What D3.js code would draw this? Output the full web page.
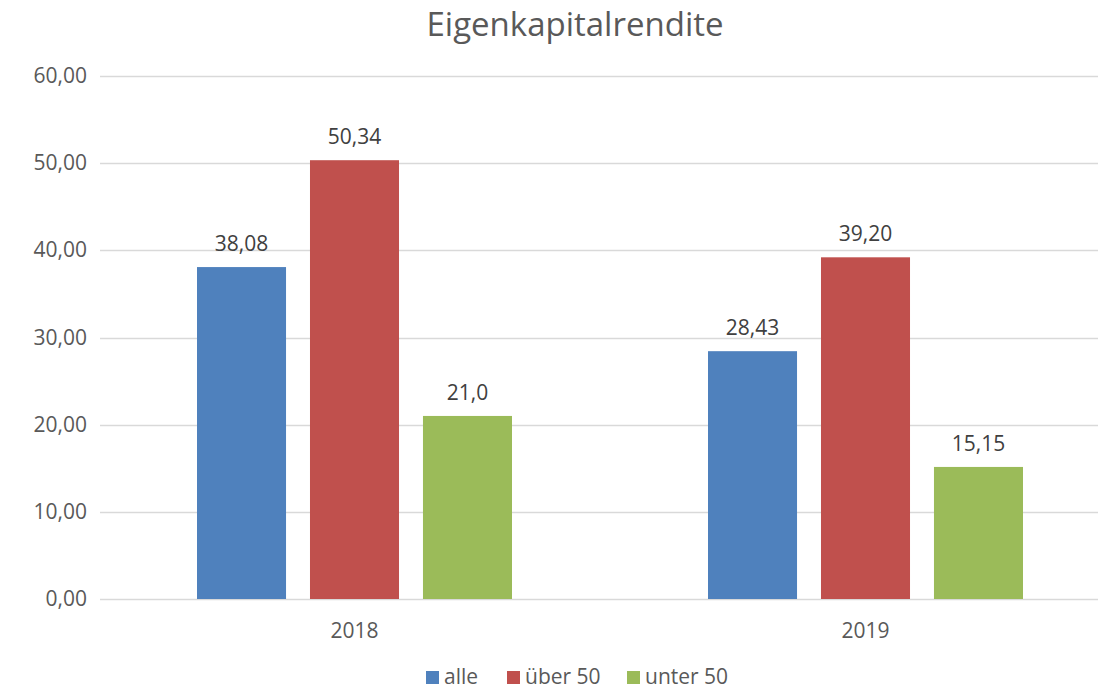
<!DOCTYPE html>
<head>
<meta charset="UTF-8">
<script src="https://cdn.jsdelivr.net/npm/d3@7"></script>
<style>
body { margin: 0; background: #fff; }
svg { display: block; font-family: "Open Sans", "Liberation Sans", sans-serif; }
.grid line { stroke: #d9d9d9; stroke-width: 1.3px; }
.tick-label { fill: #595959; font-size: 21px; }
.bar-label { fill: #404040; font-size: 21px; }
.title { fill: #595959; font-size: 33px; }
.legend text { fill: #595959; font-size: 21px; }
</style>
</head>
<body>
<script>

var width = 1103,
    height = 690;

var years = ["2018", "2019"];
var series = ["alle", "über 50", "unter 50"];
var colors = ["#4f81bd", "#c0504d", "#9bbb59"];
var values = [
    [38.08, 50.34, 21.0],
    [28.43, 39.20, 15.15]
];
var valueLabels = [
    ["38,08", "50,34", "21,0"],
    ["28,43", "39,20", "15,15"]
];
var yTicks = [0, 10, 20, 30, 40, 50, 60];

var svg = d3.select("body").append("svg")
    .attr("width", width)
    .attr("height", height);

var y = d3.scaleLinear().domain([0, 60]).range([599, 76]);

var x0 = d3.scaleBand().domain(years).range([99, 1121]);
var groupW = 315;
var x1 = d3.scaleBand().domain(series).range([0, groupW]).paddingInner(0.212);

var fmt = function(d) { return d3.format(".2f")(d).replace(".", ","); };

// gridlines
var grid = svg.append("g").attr("class", "grid");
grid.selectAll("line")
    .data(yTicks)
    .enter().append("line")
    .attr("x1", 100)
    .attr("x2", 1098)
    .attr("y1", function(d) { return Math.round(y(d)) + 0.5; })
    .attr("y2", function(d) { return Math.round(y(d)) + 0.5; });

svg.append("g").selectAll("text")
    .data(yTicks)
    .enter().append("text")
    .attr("class", "tick-label")
    .attr("x", 87)
    .attr("y", function(d) { return y(d) + 7; })
    .attr("text-anchor", "end")
    .text(fmt);

// bars
var groups = svg.append("g").selectAll("g")
    .data(years)
    .enter().append("g")
    .attr("transform", function(d) {
        return "translate(" + (x0(d) + (x0.bandwidth() - groupW) / 2) + ",0)";
    });

groups.selectAll("rect")
    .data(function(d, i) { return values[i].map(function(v, j) { return {s: series[j], v: v, c: colors[j]}; }); })
    .enter().append("rect")
    .attr("x", function(d) { return x1(d.s); })
    .attr("width", x1.bandwidth())
    .attr("y", function(d) { return y(d.v); })
    .attr("height", function(d) { return y(0) - y(d.v); })
    .attr("fill", function(d) { return d.c; });

groups.selectAll("text")
    .data(function(d, i) { return values[i].map(function(v, j) { return {s: series[j], v: v, l: valueLabels[i][j]}; }); })
    .enter().append("text")
    .attr("class", "bar-label")
    .attr("x", function(d) { return x1(d.s) + x1.bandwidth() / 2; })
    .attr("y", function(d) { return y(d.v) - 16; })
    .attr("text-anchor", "middle")
    .text(function(d) { return d.l; });

// category labels
svg.append("g").selectAll("text")
    .data(years)
    .enter().append("text")
    .attr("class", "tick-label")
    .attr("x", function(d) { return x0(d) + x0.bandwidth() / 2; })
    .attr("y", 638)
    .attr("text-anchor", "middle")
    .text(function(d) { return d; });

svg.append("text")
    .attr("class", "title")
    .attr("x", 575)
    .attr("y", 36)
    .attr("text-anchor", "middle")
    .text("Eigenkapitalrendite");

// legend
var legendX = [426, 507, 627];
var legend = svg.append("g").attr("class", "legend");
var item = legend.selectAll("g")
    .data(series)
    .enter().append("g")
    .attr("transform", function(d, i) { return "translate(" + legendX[i] + ",0)"; });
item.append("rect")
    .attr("x", 0)
    .attr("y", 671)
    .attr("width", 13)
    .attr("height", 13)
    .attr("fill", function(d, i) { return colors[i]; });
item.append("text")
    .attr("x", 18)
    .attr("y", 684)
    .text(function(d) { return d; });

</script>
</body>
